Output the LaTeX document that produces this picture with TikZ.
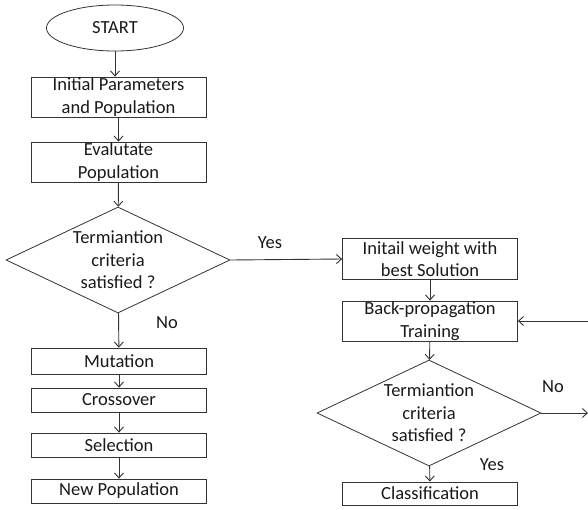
\documentclass[tikz,border=0pt]{standalone}
\usepackage{fontspec}
\setmainfont{Carlito}
\usetikzlibrary{shapes.geometric,arrows.meta}

\tikzset{
  block/.style={draw=black!80, rectangle, minimum width=175pt, inner sep=0pt, align=center},
  decision/.style={draw=black!80, diamond, aspect=2.12, minimum width=224pt, minimum height=106pt, inner sep=0pt, align=center},
  startstop/.style={draw=black!80, ellipse, minimum width=137pt, minimum height=46pt, inner sep=0pt},
  lbl/.style={inner sep=0pt},
  arr/.style={-{Straight Barb[length=5pt, width=9pt]}, draw=black!80, line width=0.9pt}
}

\begin{document}
\begin{tikzpicture}[x=1pt, y=-1pt, font=\fontsize{18.5}{22.5}\selectfont, text=black!90, line width=0.8pt]

\useasboundingbox (0,0) rectangle (588,509);

% genetic part
\node [startstop] (start) at (115,28) {START};
\node [block, minimum height=40pt] (init) at (118.5,97) {Initial Parameters\\and Population};
\node [block, minimum height=40pt] (eval) at (118.5,162) {Evalutate\\Population};
\node [decision] (dec1) at (118,260) {Termiantion\\criteria\\satisfied ?};
\node [block, minimum height=26pt] (mut) at (119,361) {Mutation};
\node [block, minimum height=24pt] (cross) at (119,400) {Crossover};
\node [block, minimum height=24pt] (sel) at (119,445) {Selection};
\node [block, minimum height=24pt] (newpop) at (119,491) {New Population};

\draw [arr] (start) -- (start |- init.north);
\draw [arr] (init) -- (eval);
\draw [arr] (eval) -- (dec1);
\draw [arr] (dec1) -- (mut);
\draw [arr] (mut) -- (cross);
\draw [arr] (cross) -- (sel);
\draw [arr] (sel) -- (newpop);

\node [lbl] (yes1) at (270,243) {Yes};
\node [lbl] (no1) at (167,323) {No};

% network part
\node [block, minimum height=41pt] (initw) at (430,259) {Initail weight with\\best Solution};
\node [block, minimum height=40pt] (bp) at (430,321) {Back-propagation\\Training};
\node [decision] (dec2) at (429,413) {Termiantion\\criteria\\satisfied ?};
\node [block, minimum height=23pt] (cls) at (430,493.5) {Classification};

\coordinate (e1) at (588,413);
\coordinate (e2) at (588,321);

\draw [arr] (dec1.east) -- (initw.west);
\draw [arr] (initw) -- (bp);
\draw [arr] (bp) -- (dec2);
\draw [arr] (dec2) -- (cls);
\draw [arr] (dec2.east) -- (e1);
\draw [arr] (e2) -- (bp.east);

\node [lbl] (no2) at (553,387) {No};
\node [lbl] (yes2) at (492,465) {Yes};

\end{tikzpicture}
\end{document}
